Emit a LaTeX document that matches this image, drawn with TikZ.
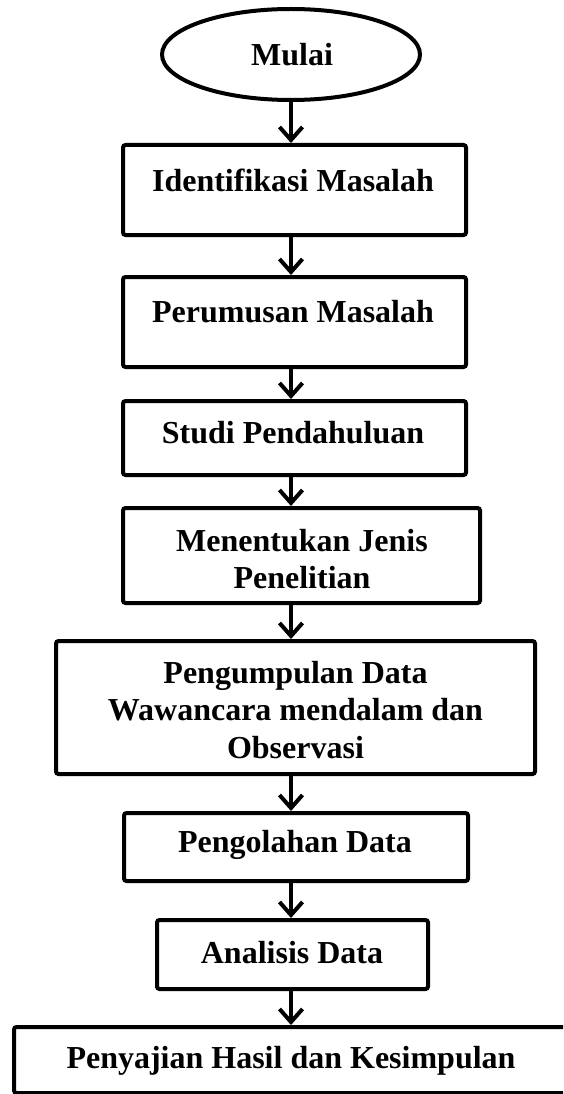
\documentclass[tikz,border=0pt]{standalone}
\usepackage{fontspec}
\setmainfont{Liberation Serif}
\usetikzlibrary{arrows.meta,shapes.geometric,calc}
\begin{document}
\begin{tikzpicture}[x=1pt,y=-1pt,
  boxstyle/.style={draw=black,line width=4pt,rounded corners=2.5pt,inner sep=0pt},
  termstyle/.style={draw=black,line width=4pt,ellipse,inner sep=0pt},
  txt/.style={align=center,inner sep=0pt,font=\fontsize{32}{37.5}\selectfont\bfseries},
  arr/.style={line width=4pt,-{Straight Barb[length=13pt,width=23pt,line width=4pt]}}
]
\useasboundingbox (0,0) rectangle (563,1094);
\clip (0,0) rectangle (563,1094);
\fill[white] (0,0) rectangle (563,1094);
\coordinate (ax) at (291,0);
% terminal
\node[termstyle,minimum width=258pt,minimum height=91pt] (e) at (291,54.5) {};
\node[txt] (te) at (292,55) {Mulai};
% boxes
\node[boxstyle,minimum width=343pt,minimum height=90pt] (b1) at (294.5,190) {};
\node[txt] (t1) at (293,180) {Identifikasi Masalah};
\node[boxstyle,minimum width=343pt,minimum height=90pt] (b2) at (294.5,322) {};
\node[txt] (t2) at (293,312) {Perumusan Masalah};
\node[boxstyle,minimum width=343pt,minimum height=74pt] (b3) at (294.5,438) {};
\node[txt] (t3) at (293,433) {Studi Pendahuluan};
\node[boxstyle,minimum width=357pt,minimum height=95pt] (b4) at (301.5,555.5) {};
\node[txt] (t4) at (302,559) {Menentukan Jenis\\Penelitian};
\node[boxstyle,minimum width=479pt,minimum height=133pt] (b5) at (295.5,707.5) {};
\node[txt] (t5) at (295.5,710) {Pengumpulan Data\\Wawancara mendalam dan\\Observasi};
\node[boxstyle,minimum width=344pt,minimum height=68pt] (b6) at (296,847) {};
\node[txt] (t6) at (295,845) {Pengolahan Data};
\node[boxstyle,minimum width=271pt,minimum height=69pt] (b7) at (292.5,954.5) {};
\node[txt] (t7) at (292,953) {Analisis Data};
\node[boxstyle,minimum width=554pt,minimum height=66pt] (b8) at (291,1060) {};
\node[txt] (t8) at (291,1061) {Penyajian Hasil dan Kesimpulan};
% connectors
\draw[arr] (ax |- e.south) -- (ax |- b1.north);
\draw[arr] (ax |- b1.south) -- (ax |- b2.north);
\draw[arr] (ax |- b2.south) -- (ax |- b3.north);
\draw[arr] (ax |- b3.south) -- (ax |- b4.north);
\draw[arr] (ax |- b4.south) -- (ax |- b5.north);
\draw[arr] (ax |- b5.south) -- (ax |- b6.north);
\draw[arr] (ax |- b6.south) -- (ax |- b7.north);
\draw[arr] (ax |- b7.south) -- (ax |- b8.north);
\end{tikzpicture}
\end{document}
